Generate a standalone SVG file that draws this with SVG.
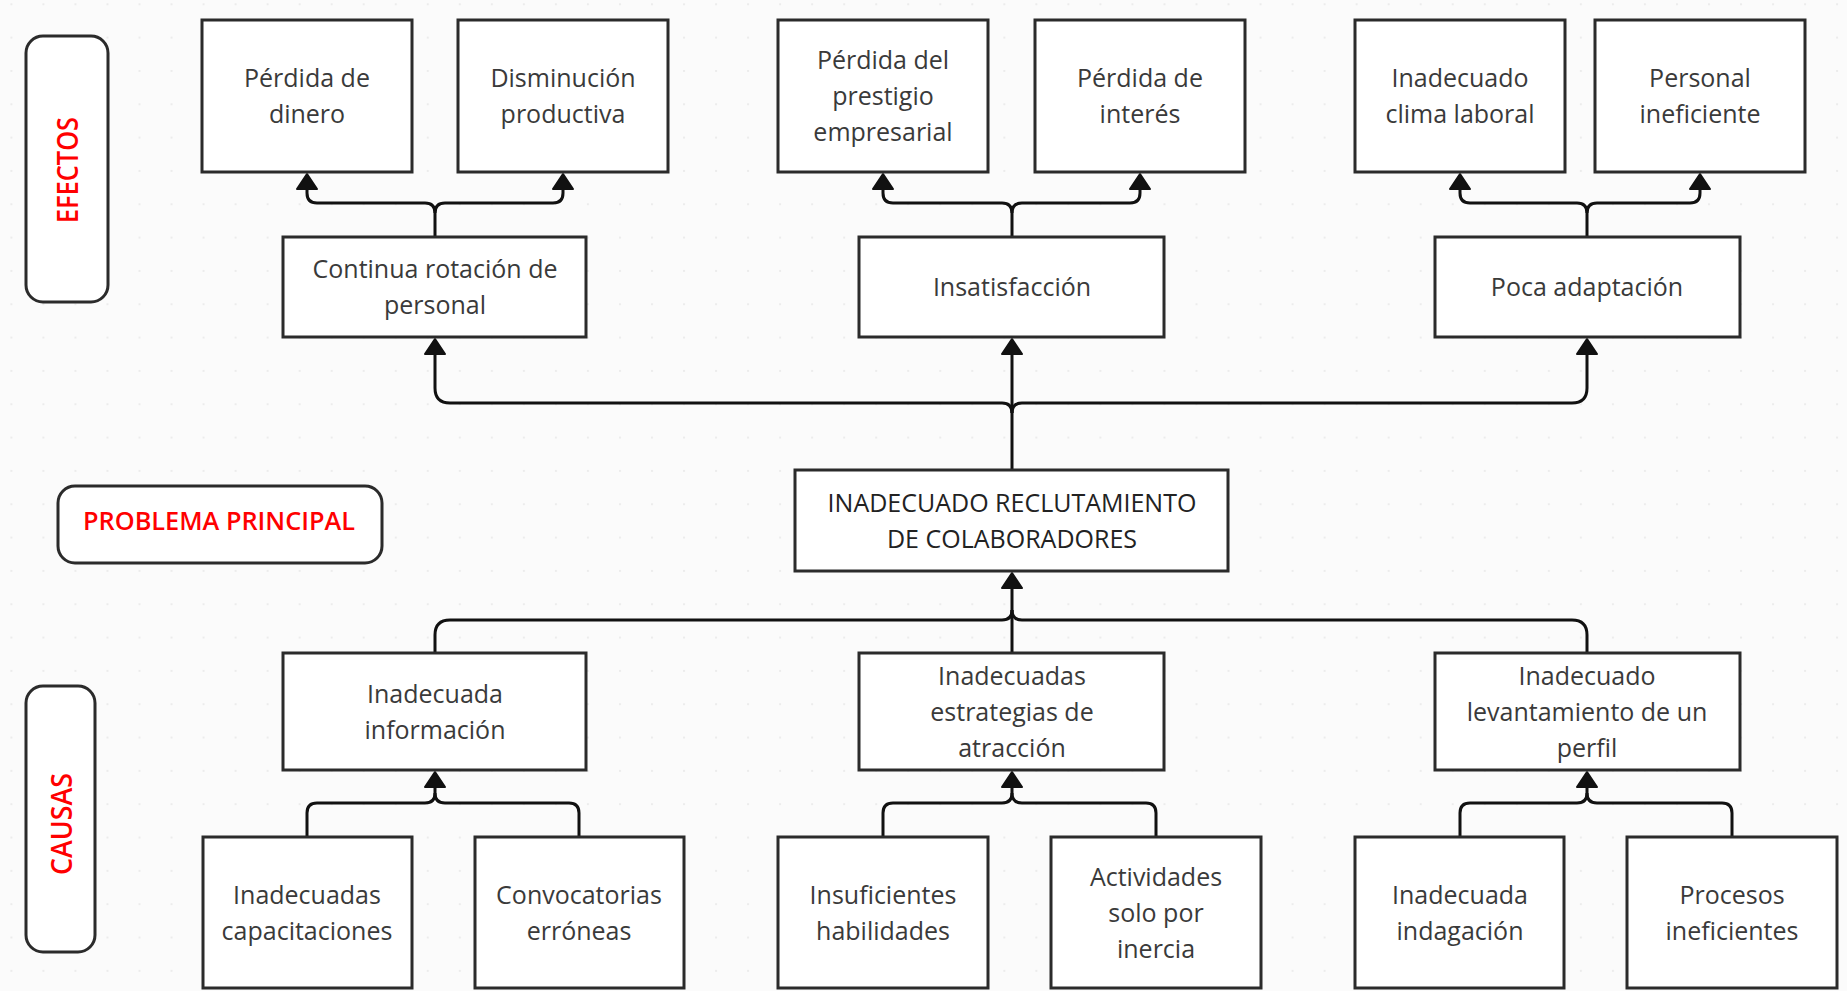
<svg xmlns="http://www.w3.org/2000/svg" width="1847" height="991" viewBox="0 0 1847 991">
<style>
.box{fill:#ffffff;stroke:#2b2b2b;stroke-width:3}
.pill{fill:#ffffff;stroke:#2b2b2b;stroke-width:3}
.t{font-family:"Open Sans","Noto Sans","Liberation Sans",sans-serif;font-size:25px;fill:#3a3a3a;text-anchor:middle}
.tm{font-family:"Open Sans","Noto Sans","Liberation Sans",sans-serif;font-size:25px;fill:#222222;text-anchor:middle}
.red{font-family:"Open Sans","Noto Sans","Liberation Sans",sans-serif;font-weight:600;fill:#ff0000;text-anchor:middle}
.c{fill:none;stroke:#111111;stroke-width:3;stroke-linejoin:round}
</style>
<defs>
<pattern id="dots" x="10.4" y="3.3" width="32.03" height="33.33" patternUnits="userSpaceOnUse">
<rect x="0" y="0" width="2" height="2" fill="#ececec"/>
</pattern>
<marker id="arr" viewBox="-1 -1 18 24" markerWidth="18" markerHeight="24" refX="0" refY="11" orient="auto" markerUnits="userSpaceOnUse">
<path d="M0,1 L15,11 L0,21 z" fill="#111111" stroke="#111111" stroke-width="2" stroke-linejoin="round"/>
</marker>
</defs>
<rect x="0" y="0" width="1847" height="991" fill="#fbfbfb"/>
<rect x="0" y="0" width="1847" height="991" fill="url(#dots)"/>

<g id="connectors">
<path class="c" d="M435,237 V213 Q435,203 425,203 H317 Q307,203 307,193 V189" marker-end="url(#arr)"/>
<path class="c" d="M435,213 Q435,203 445,203 H553 Q563,203 563,193 V189" marker-end="url(#arr)"/>
<path class="c" d="M1012,237 V213 Q1012,203 1002,203 H893 Q883,203 883,193 V189" marker-end="url(#arr)"/>
<path class="c" d="M1012,213 Q1012,203 1022,203 H1130 Q1140,203 1140,193 V189" marker-end="url(#arr)"/>
<path class="c" d="M1587,237 V213 Q1587,203 1577,203 H1470 Q1460,203 1460,193 V189" marker-end="url(#arr)"/>
<path class="c" d="M1587,213 Q1587,203 1597,203 H1690 Q1700,203 1700,193 V189" marker-end="url(#arr)"/>
<path class="c" d="M1012,470 V354" marker-end="url(#arr)"/>
<path class="c" d="M1012,413 Q1012,403 1002,403 H450 Q435,403 435,388 V354" marker-end="url(#arr)"/>
<path class="c" d="M1012,413 Q1012,403 1022,403 H1572 Q1587,403 1587,388 V354" marker-end="url(#arr)"/>
<path class="c" d="M1012,653 V588" marker-end="url(#arr)"/>
<path class="c" d="M435,653 V635 Q435,620 450,620 H1002 Q1012,620 1012,610"/>
<path class="c" d="M1587,653 V635 Q1587,620 1572,620 H1022 Q1012,620 1012,610"/>
<path class="c" d="M307,837 V813 Q307,803 317,803 H425 Q435,803 435,793 V787" marker-end="url(#arr)"/>
<path class="c" d="M579,837 V813 Q579,803 569,803 H445 Q435,803 435,793"/>
<path class="c" d="M883,837 V813 Q883,803 893,803 H1002 Q1012,803 1012,793 V787" marker-end="url(#arr)"/>
<path class="c" d="M1156,837 V813 Q1156,803 1146,803 H1022 Q1012,803 1012,793"/>
<path class="c" d="M1460,837 V813 Q1460,803 1470,803 H1577 Q1587,803 1587,793 V787" marker-end="url(#arr)"/>
<path class="c" d="M1732,837 V813 Q1732,803 1722,803 H1597 Q1587,803 1587,793"/>
</g>

<g id="lbl-efectos">
<rect class="pill" x="26" y="36" width="82" height="266" rx="17"/>
<text class="red" font-size="29" transform="translate(78,170) rotate(-90)" textLength="106" lengthAdjust="spacingAndGlyphs">EFECTOS</text>
</g>
<g id="lbl-problema">
<rect class="pill" x="58" y="486" width="324" height="77" rx="17"/>
<text class="red" font-size="25" x="219" y="530" textLength="272" lengthAdjust="spacingAndGlyphs">PROBLEMA PRINCIPAL</text>
</g>
<g id="lbl-causas">
<rect class="pill" x="26" y="686" width="69" height="266" rx="17"/>
<text class="red" font-size="28" transform="translate(72,824) rotate(-90)" textLength="102" lengthAdjust="spacingAndGlyphs">CAUSAS</text>
</g>

<g id="e1"><rect class="box" x="202" y="20" width="210" height="152"/>
<text class="t" x="307" y="87">Pérdida de</text><text class="t" x="307" y="123">dinero</text></g>
<g id="e2"><rect class="box" x="458" y="20" width="210" height="152"/>
<text class="t" x="563" y="87">Disminución</text><text class="t" x="563" y="123">productiva</text></g>
<g id="e3"><rect class="box" x="778" y="20" width="210" height="152"/>
<text class="t" x="883" y="69">Pérdida del</text><text class="t" x="883" y="105">prestigio</text><text class="t" x="883" y="141">empresarial</text></g>
<g id="e4"><rect class="box" x="1035" y="20" width="210" height="152"/>
<text class="t" x="1140" y="87">Pérdida de</text><text class="t" x="1140" y="123">interés</text></g>
<g id="e5"><rect class="box" x="1355" y="20" width="210" height="152"/>
<text class="t" x="1460" y="87">Inadecuado</text><text class="t" x="1460" y="123">clima laboral</text></g>
<g id="e6"><rect class="box" x="1595" y="20" width="210" height="152"/>
<text class="t" x="1700" y="87">Personal</text><text class="t" x="1700" y="123">ineficiente</text></g>

<g id="m1"><rect class="box" x="283" y="237" width="303" height="100"/>
<text class="t" x="435" y="278">Continua rotación de</text><text class="t" x="435" y="314">personal</text></g>
<g id="m2"><rect class="box" x="859" y="237" width="305" height="100"/>
<text class="t" x="1012" y="296">Insatisfacción</text></g>
<g id="m3"><rect class="box" x="1435" y="237" width="305" height="100"/>
<text class="t" x="1587" y="296">Poca adaptación</text></g>

<g id="main"><rect class="box" x="795" y="470" width="433" height="101"/>
<text class="tm" x="1012" y="512">INADECUADO RECLUTAMIENTO</text><text class="tm" x="1012" y="548">DE COLABORADORES</text></g>

<g id="c1"><rect class="box" x="283" y="653" width="303" height="117"/>
<text class="t" x="435" y="703">Inadecuada</text><text class="t" x="435" y="739">información</text></g>
<g id="c2"><rect class="box" x="859" y="653" width="305" height="117"/>
<text class="t" x="1012" y="685">Inadecuadas</text><text class="t" x="1012" y="721">estrategias de</text><text class="t" x="1012" y="757">atracción</text></g>
<g id="c3"><rect class="box" x="1435" y="653" width="305" height="117"/>
<text class="t" x="1587" y="685">Inadecuado</text><text class="t" x="1587" y="721">levantamiento de un</text><text class="t" x="1587" y="757">perfil</text></g>

<g id="b1"><rect class="box" x="203" y="837" width="209" height="151"/>
<text class="t" x="307" y="904">Inadecuadas</text><text class="t" x="307" y="940">capacitaciones</text></g>
<g id="b2"><rect class="box" x="475" y="837" width="209" height="151"/>
<text class="t" x="579" y="904">Convocatorias</text><text class="t" x="579" y="940">erróneas</text></g>
<g id="b3"><rect class="box" x="778" y="837" width="210" height="151"/>
<text class="t" x="883" y="904">Insuficientes</text><text class="t" x="883" y="940">habilidades</text></g>
<g id="b4"><rect class="box" x="1051" y="837" width="210" height="151"/>
<text class="t" x="1156" y="886">Actividades</text><text class="t" x="1156" y="922">solo por</text><text class="t" x="1156" y="958">inercia</text></g>
<g id="b5"><rect class="box" x="1355" y="837" width="209" height="151"/>
<text class="t" x="1460" y="904">Inadecuada</text><text class="t" x="1460" y="940">indagación</text></g>
<g id="b6"><rect class="box" x="1627" y="837" width="210" height="151"/>
<text class="t" x="1732" y="904">Procesos</text><text class="t" x="1732" y="940">ineficientes</text></g>
</svg>
